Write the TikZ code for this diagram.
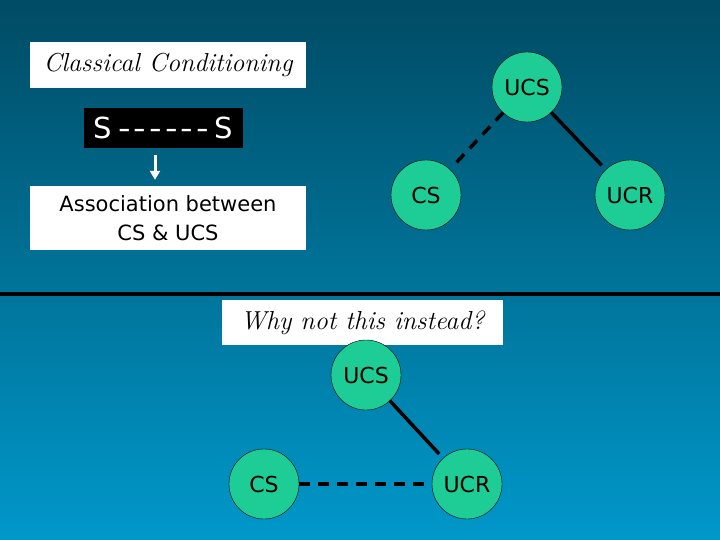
\documentclass[tikz,border=0pt]{standalone}
\usepackage{fontspec}
\usepackage{tkz-graph}
\usetikzlibrary{arrows.meta}
\newfontfamily\comicfont{DejaVu Sans}
\definecolor{bgtop}{RGB}{0,75,100}
\definecolor{bgbottom}{RGB}{0,152,202}
\definecolor{mint}{RGB}{30,205,150}
\newcommand\wdash{\scalebox{1.2}[1]{-}\kern3pt}

\begin{document}
\begin{tikzpicture}[x=1pt,y=-1pt,
    titlebox/.style={fill=white,inner sep=0pt,font=\itshape\fontsize{26}{28}\selectfont},
    textbox/.style={fill=white,inner sep=0pt,align=center,font=\comicfont\fontsize{21}{29}\selectfont}]

        \GraphInit[vstyle=Normal]
        \tikzset{VertexStyle/.style={shape=circle,draw=black,line width=0.4pt,fill=mint,
            minimum size=70pt,inner sep=0pt,font=\comicfont\fontsize{22}{24}\selectfont}}
        \tikzset{EdgeStyle/.style={line width=3.5pt,black}}

        \useasboundingbox (0,0) rectangle (720,540);
        \shade[top color=bgtop,bottom color=bgbottom] (0,0) rectangle (720,540);

        % classical conditioning
        \node[titlebox,minimum width=276pt,minimum height=46pt] (title) at (168,65) {Classical Conditioning};
        \node[fill=black,text=white,inner sep=0pt,minimum width=159pt,minimum height=40pt,
            font=\comicfont\fontsize{29}{31}\selectfont] (pair) at (163.5,128)
            {S\hspace{6pt}\wdash\wdash\wdash\wdash\wdash\wdash\hspace{3pt}S};
        \node[textbox,minimum width=276pt,minimum height=64pt] (assoc) at (168,218) {Association between\\CS \& UCS};
        \draw[white,line width=3pt,-{Triangle[length=9pt,width=10pt]},shorten <=7pt,shorten >=6pt]
            ([xshift=-8.5pt]pair.south) -- ([xshift=-13pt]assoc.north);

        \Vertex[L=UCS,x=527,y=87]{ucs1}
        \Vertex[L=CS,x=426,y=195]{cs1}
        \Vertex[L=UCR,x=630,y=195]{ucr1}

        \Edge[style={dash pattern=on 11pt off 8pt,shorten >=6pt}](ucs1)(cs1)
        \Edge[style={shorten >=6pt}](ucs1)(ucr1)

        % divider
        \coordinate (divL) at (0,294);
        \coordinate (divR) at (720,294);
        \draw[line width=4pt,black] (divL) -- (divR);

        % why not this
        \node[titlebox,minimum width=281pt,minimum height=45pt] (why) at (362.5,322.5) {Why not this instead?};

        \Vertex[L=UCS,x=366,y=375]{ucs2}
        \Vertex[L=CS,x=264,y=484]{cs2}
        \Vertex[L=UCR,x=467,y=484]{ucr2}

        \Edge[style={shorten >=6pt}](ucs2)(ucr2)
        \Edge[style={dash pattern=on 11pt off 8pt}](cs2)(ucr2)

\end{tikzpicture}
\end{document}
